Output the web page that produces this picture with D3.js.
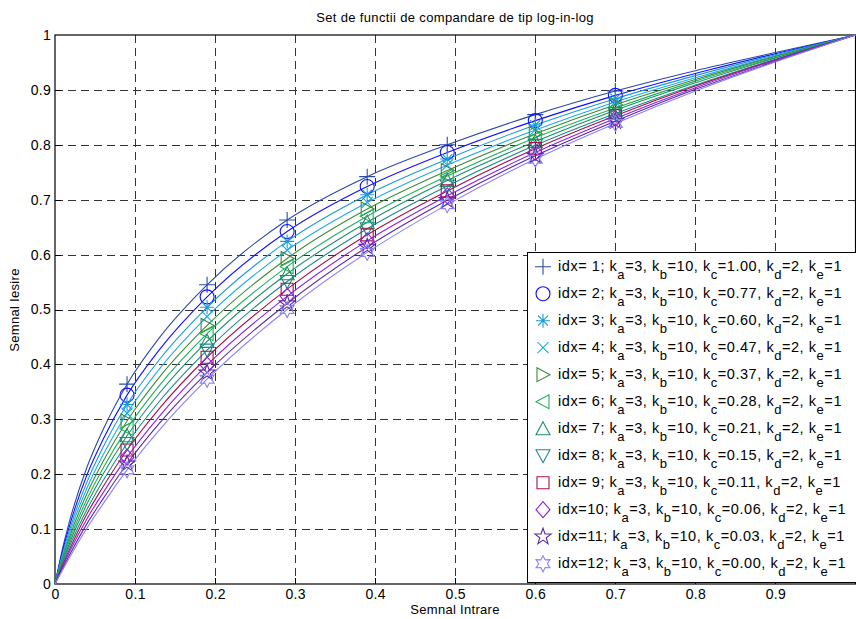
<!DOCTYPE html>
<html><head><meta charset="utf-8">
<script src="https://cdn.jsdelivr.net/npm/d3@7"></script>
<style>body{margin:0;background:#fff;} text{font-family:"Liberation Sans",Arial,sans-serif;}</style>
</head><body><svg id="c" width="856" height="619"></svg>
<script>
// ---- data ----
const xs = [0, 0.01, 0.02, 0.04, 0.06, 0.09, 0.13, 0.19, 0.29, 0.39, 0.49, 0.6, 0.7, 0.8, 0.9, 1.0];
const markerX = [0.09, 0.19, 0.29, 0.39, 0.49, 0.6, 0.7];
const s1  = [0, .068, .124, .213, .281, .364, .448, .545, .663, .742, .800, .855, .898, .935, .968, 1];
const s2  = [0, .063, .115, .199, .263, .344, .426, .523, .642, .724, .786, .844, .890, .930, .966, 1];
const s3  = [0, .058, .107, .186, .249, .327, .408, .504, .624, .709, .774, .836, .884, .926, .964, 1];
const s4  = [0, .054, .100, .175, .235, .311, .391, .487, .608, .695, .763, .827, .878, .922, .962, 1];
const s5  = [0, .050, .093, .165, .223, .297, .376, .471, .593, .683, .753, .820, .873, .919, .961, 1];
const s6  = [0, .047, .087, .155, .211, .283, .361, .456, .578, .670, .743, .813, .867, .916, .959, 1];
const s7  = [0, .043, .081, .146, .200, .270, .347, .442, .565, .659, .735, .806, .863, .913, .958, 1];
const s8  = [0, .040, .075, .136, .188, .256, .332, .426, .551, .647, .725, .799, .857, .909, .956, 1];
const s9  = [0, .036, .069, .128, .177, .244, .319, .413, .537, .636, .716, .793, .853, .907, .955, 1];
const s10 = [0, .033, .064, .119, .166, .231, .305, .399, .524, .625, .707, .786, .848, .904, .954, 1];
const s11 = [0, .030, .058, .110, .155, .219, .292, .385, .511, .614, .699, .780, .843, .901, .952, 1];
const s12 = [0, .027, .053, .102, .146, .208, .280, .373, .500, .604, .691, .774, .839, .898, .951, 1];
const seriesValues = [s1,s2,s3,s4,s5,s6,s7,s8,s9,s10,s11,s12];
const idxValues = [1,2,3,4,5,6,7,8,9,10,11,12];
const kaVal = 3, kbVal = 10, kdVal = 2, keVal = 1;
const kcValues = ["1.00","0.77","0.60","0.47","0.37","0.28","0.21","0.15","0.11","0.06","0.03","0.00"];
const xTicks = [0,0.1,0.2,0.3,0.4,0.5,0.6,0.7,0.8,0.9];
const yTicks = [0,0.1,0.2,0.3,0.4,0.5,0.6,0.7,0.8,0.9,1];
const colors = ["#2a4aa8","#1010ff","#1a9ad8","#22aae6","#3e8a3a","#22b060","#1f8f66","#1d8a8a","#a8104a","#8a22e6","#5a2aa0","#8a80ff"];
const markers = ["plus","circle","asterisk","x","tright","tleft","tup","tdown","square","diamond","pentagram","hexagram"];
const title = "Set de functii de compandare de tip log-in-log";
const xLabel = "Semnal Intrare", yLabel = "Semnal Iesire";

// ---- layout ----
const L=55, R=855.5, T=35, B=584;
const svg = d3.select("#c");
const x = d3.scaleLinear().domain([0,1]).range([L,R]);
const y = d3.scaleLinear().domain([0,1]).range([B,T]);

// grid
const g = svg.append("g");
g.selectAll(".vg").data(xTicks.slice(1)).enter().append("line")
  .attr("x1",d=>Math.round(x(d))+0.5).attr("x2",d=>Math.round(x(d))+0.5).attr("y1",T).attr("y2",B)
  .attr("stroke","#333").attr("stroke-dasharray","8,5");
g.selectAll(".hg").data(yTicks.slice(1,-1)).enter().append("line")
  .attr("y1",d=>Math.round(y(d))+0.5).attr("y2",d=>Math.round(y(d))+0.5).attr("x1",L).attr("x2",R)
  .attr("stroke","#333").attr("stroke-dasharray","8,5");

// axes
const xa = svg.append("g").attr("transform",`translate(0,${B})`)
  .call(d3.axisBottom(x).tickValues(xTicks).tickFormat(d=>d===0?"0":d3.format(".1f")(d)).tickSize(0).tickPadding(4));
const ya = svg.append("g").attr("transform",`translate(${L},0)`)
  .call(d3.axisLeft(y).tickValues(yTicks).tickFormat(d=>(d===0||d===1)?String(d):d3.format(".1f")(d)).tickSize(0).tickPadding(4));
[xa,ya].forEach(a=>{a.select(".domain").remove(); a.selectAll("text").attr("font-size",14).attr("fill","#000").attr("letter-spacing","0.3px").attr("font-family","Liberation Sans, Arial, sans-serif");});
xa.selectAll("text").attr("dy","0.75em");
// inner tick marks (MATLAB style)
svg.selectAll(".xt").data(xTicks.slice(1)).enter().append("line")
  .attr("x1",d=>Math.round(x(d))+0.5).attr("x2",d=>Math.round(x(d))+0.5).attr("y1",B).attr("y2",B-6).attr("stroke","#000");
svg.selectAll(".yt").data(yTicks.slice(1,-1)).enter().append("line")
  .attr("y1",d=>Math.round(y(d))+0.5).attr("y2",d=>Math.round(y(d))+0.5).attr("x1",L).attr("x2",L+6).attr("stroke","#000");
svg.append("rect").attr("x",L).attr("y",T).attr("width",R-L).attr("height",B-T)
  .attr("fill","none").attr("stroke","#000").attr("stroke-width",1.2);

// lines
const line = d3.line().x(d=>x(d[0])).y(d=>y(d[1])).curve(d3.curveMonotoneX);
seriesValues.forEach((vals,i)=>{
  svg.append("path").datum(xs.map((xv,j)=>[xv,vals[j]])).attr("d",line)
    .attr("fill","none").attr("stroke",colors[i]).attr("stroke-width",1.1);
});

// marker shapes
function star(n, ro, ri){ let p=""; for(let k=0;k<2*n;k++){const r=k%2?ri:ro; const a=-Math.PI/2+k*Math.PI/n; p+=(k?"L":"M")+(r*Math.cos(a)).toFixed(2)+","+(r*Math.sin(a)).toFixed(2);} return p+"Z"; }
function markerPath(m){
  switch(m){
    case "plus": return "M-8,0H8M0,-8V8";
    case "circle": return "M7,0A7,7 0 1 1 -7,0A7,7 0 1 1 7,0Z";
    case "asterisk": return "M-7,0H7M0,-7V7M-5,-5L5,5M-5,5L5,-5";
    case "x": return "M-5.5,-5.5L5.5,5.5M-5.5,5.5L5.5,-5.5";
    case "tright": return "M-6,-7L7,0L-6,7Z";
    case "tleft": return "M6,-7L-7,0L6,7Z";
    case "tup": return "M0,-7L7,6L-7,6Z";
    case "tdown": return "M0,7L7,-6L-7,-6Z";
    case "square": return "M-6,-6H6V6H-6Z";
    case "diamond": return "M0,-8L7,0L0,8L-7,0Z";
    case "pentagram": return star(5,8.5,3.4);
    case "hexagram": return star(6,8,4.4);
  }
}
seriesValues.forEach((vals,i)=>{
  const pts = xs.map((xv,j)=>[xv,vals[j]]).filter(d=>markerX.includes(d[0]));
  svg.selectAll(null).data(pts).enter().append("path")
    .attr("transform",d=>`translate(${x(d[0])},${y(d[1])})`)
    .attr("d",markerPath(markers[i])).attr("fill","none").attr("stroke",colors[i]).attr("stroke-width",1.1);
});

// titles
svg.append("text").attr("x",455).attr("y",22).attr("text-anchor","middle").attr("font-size",13).attr("letter-spacing","0.35px").text(title);
svg.append("text").attr("x",455).attr("y",614).attr("text-anchor","middle").attr("font-size",13).attr("letter-spacing","0.3px").text(xLabel);
svg.append("text").attr("transform","translate(19,310) rotate(-90)").attr("text-anchor","middle").attr("font-size",13).attr("letter-spacing","0.3px").text(yLabel);

// legend
const lx=527.5, ly=252.5, lw=330, lh=330, step=27, y0=266.7;
svg.append("rect").attr("x",lx).attr("y",ly).attr("width",lw).attr("height",lh).attr("fill","#fff").attr("stroke","#000");
idxValues.forEach((idx,i)=>{
  const cy = y0 + i*step;
  svg.append("path").attr("transform",`translate(543,${cy})`).attr("d",markerPath(markers[i]))
    .attr("fill","none").attr("stroke",colors[i]).attr("stroke-width",1.1);
  const t = svg.append("text").attr("x",558).attr("y",cy+4.5).attr("font-size",14.5).attr("letter-spacing","0.55px");
  const parts = [["idx="+String(idx).padStart(2," ").replace(" ","\u00a0")+"; k",0],["a",1],["="+kaVal+", k",0],["b",1],["="+kbVal+", k",0],["c",1],["="+kcValues[i]+", k",0],["d",1],["="+kdVal+", k",0],["e",1],["="+keVal,0]];
  parts.forEach(([s,sub],j)=>{
    const prev = j>0 ? parts[j-1][1] : 0;
    t.append("tspan").attr("dy", sub && !prev ? 8 : (!sub && prev ? -8 : 0)).attr("font-size", sub?13:14.5).text(s);
  });
});
</script></body></html>
